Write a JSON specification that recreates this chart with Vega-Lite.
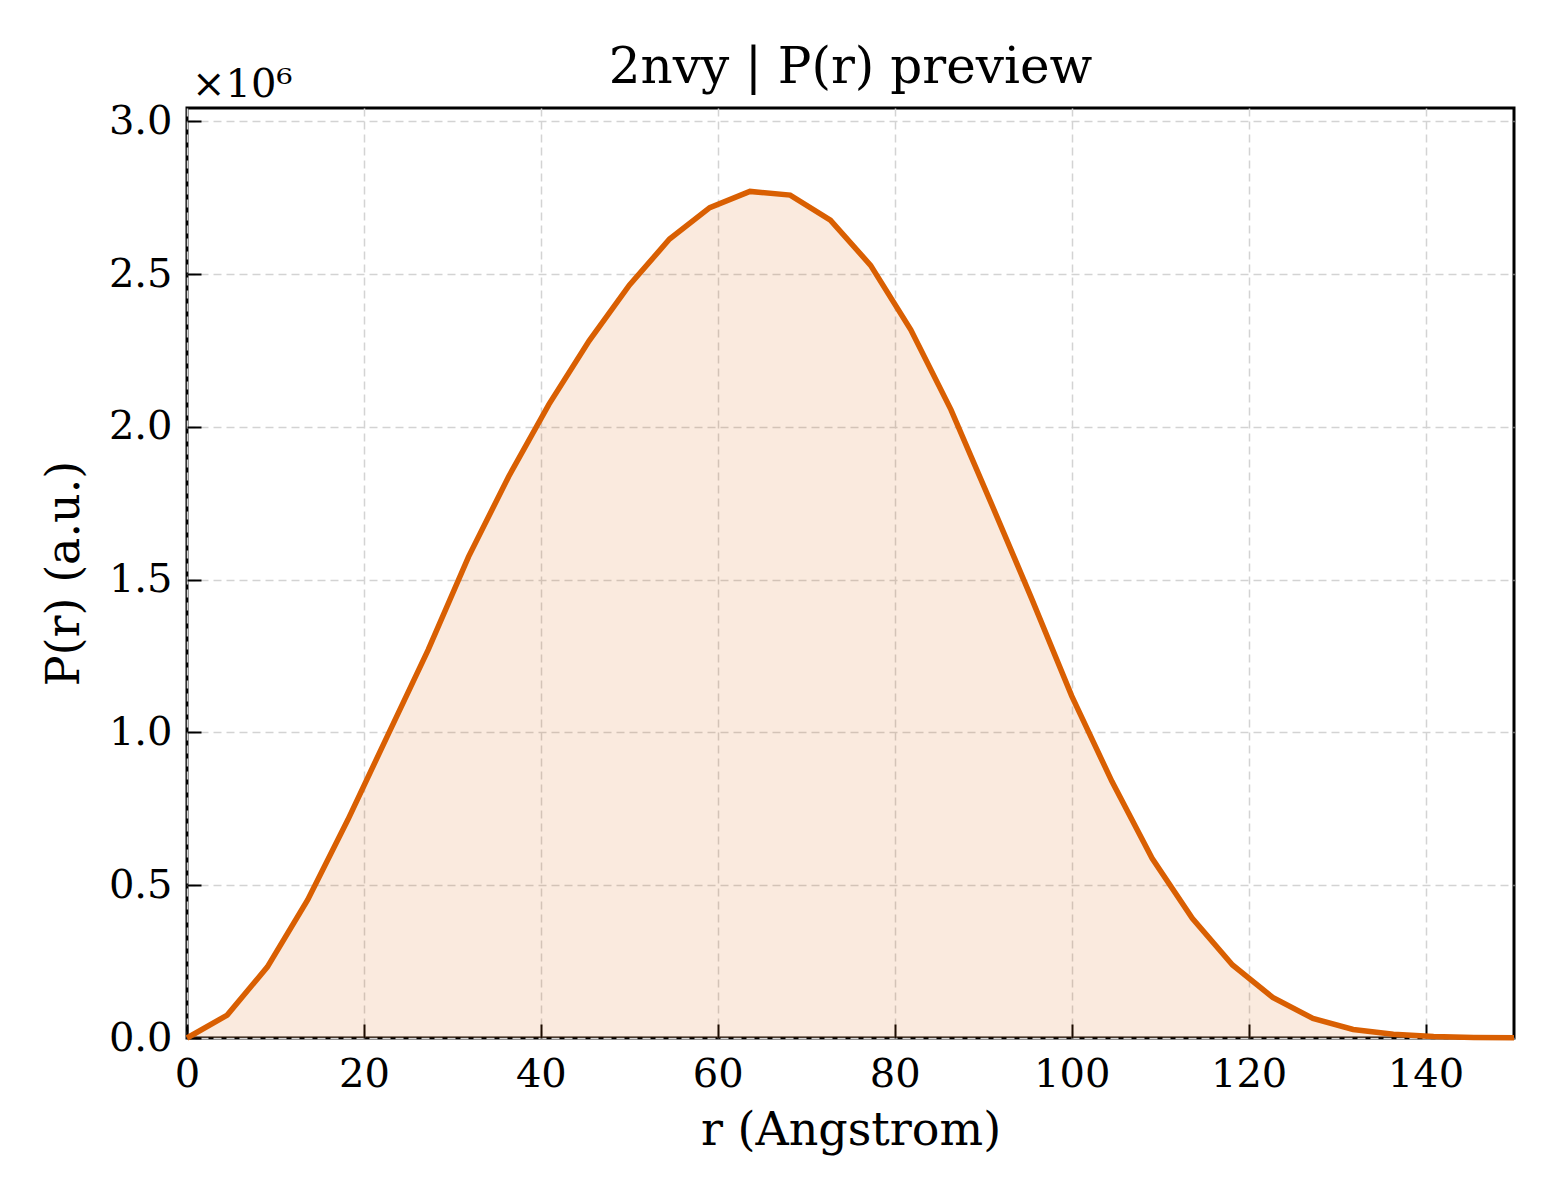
{
  "$schema": "https://vega.github.io/schema/vega-lite/v6.json",
  "width": 1327,
  "height": 930,
  "autosize": {"type": "none"},
  "padding": {"left": 187, "top": 108, "right": 46, "bottom": 162},
  "background": "white",
  "title": {"text": "2nvy | P(r) preview", "font": "DejaVu Serif", "fontSize": 50, "fontWeight": "normal", "color": "black", "offset": -28},
  "data": {"values": [
    {"r": 0.0, "P": 0},
    {"r": 4.545, "P": 75000},
    {"r": 9.091, "P": 233000},
    {"r": 13.636, "P": 452000},
    {"r": 18.182, "P": 714000},
    {"r": 22.727, "P": 993000},
    {"r": 27.273, "P": 1271000},
    {"r": 31.818, "P": 1575000},
    {"r": 36.364, "P": 1838000},
    {"r": 40.909, "P": 2074000},
    {"r": 45.455, "P": 2282000},
    {"r": 50.0, "P": 2464000},
    {"r": 54.545, "P": 2615000},
    {"r": 59.091, "P": 2718000},
    {"r": 63.636, "P": 2771000},
    {"r": 68.182, "P": 2759000},
    {"r": 72.727, "P": 2677000},
    {"r": 77.273, "P": 2529000},
    {"r": 81.818, "P": 2318000},
    {"r": 86.364, "P": 2056000},
    {"r": 90.909, "P": 1750000},
    {"r": 95.455, "P": 1440000},
    {"r": 100.0, "P": 1120000},
    {"r": 104.545, "P": 840000},
    {"r": 109.091, "P": 588000},
    {"r": 113.636, "P": 392000},
    {"r": 118.182, "P": 239000},
    {"r": 122.727, "P": 133000},
    {"r": 127.273, "P": 64000},
    {"r": 131.818, "P": 28000},
    {"r": 136.364, "P": 12000},
    {"r": 140.909, "P": 5000},
    {"r": 145.455, "P": 2000},
    {"r": 150.0, "P": 1000}
  ]},
  "layer": [
    {"mark": {"type": "area", "color": "#d95f02", "opacity": 0.13, "line": false},
     "encoding": {
      "x": {"field": "r", "type": "quantitative", "scale": {"domain": [0, 150], "nice": false, "zero": false},
        "axis": {"title": "r (Angstrom)", "values": [0, 20, 40, 60, 80, 100, 120, 140], "format": "d"}},
      "y": {"field": "P", "type": "quantitative", "scale": {"domain": [0, 3044000], "nice": false},
        "axis": {"title": "P(r) (a.u.)", "values": [0, 500000, 1000000, 1500000, 2000000, 2500000, 3000000], "labelExpr": "format(datum.value / 1000000, '.1f')"}}
     }},
    {"mark": {"type": "line", "color": "#d95f02", "strokeWidth": 5.5, "strokeJoin": "miter"},
     "encoding": {
      "x": {"field": "r", "type": "quantitative"},
      "y": {"field": "P", "type": "quantitative"}
     }},
    {"data": {"values": [{"lx": 0, "ly": 3044000, "label": "×10⁶"}]},
     "mark": {"type": "text", "font": "DejaVu Serif", "fontSize": 40, "align": "left", "baseline": "alphabetic", "dx": 5, "dy": -11, "color": "black", "clip": false},
     "encoding": {"x": {"field": "lx", "type": "quantitative"}, "y": {"field": "ly", "type": "quantitative"}, "text": {"field": "label", "type": "nominal"}}}
  ],
  "config": {
    "font": "DejaVu Serif",
    "view": {"stroke": "black", "strokeWidth": 3},
    "axis": {
      "domain": false,
      "grid": true,
      "gridColor": "#d3d3d3",
      "gridDash": [8, 5],
      "gridWidth": 1.5,
      "ticks": true,
      "tickSize": -14,
      "tickWidth": 2,
      "tickColor": "black",
      "labelFont": "DejaVu Serif",
      "labelFontSize": 40,
      "labelColor": "black",
      "titleFont": "DejaVu Serif",
      "titleFontSize": 46,
      "titleFontWeight": "normal",
      "titleColor": "black"
    },
    "axisX": {"labelPadding": 30, "titlePadding": 14, "labelFlush": false},
    "axisY": {"labelPadding": 29, "titlePadding": 20}
  }
}
